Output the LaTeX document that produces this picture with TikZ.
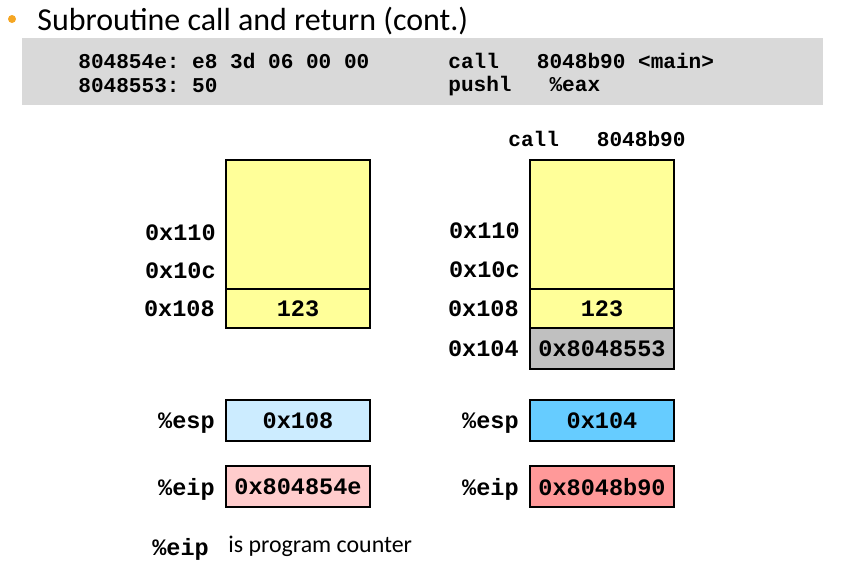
\documentclass[tikz,border=0pt]{standalone}
\usepackage{fontspec}
\setmainfont{Carlito}
\setmonofont{Liberation Mono}
\usetikzlibrary{positioning}
\definecolor{bandgray}{HTML}{D9D9D9}
\definecolor{stackyellow}{HTML}{FFFF99}
\definecolor{retgray}{HTML}{C0C0C0}
\definecolor{espold}{HTML}{CCECFF}
\definecolor{espnew}{HTML}{66CCFF}
\definecolor{eipold}{HTML}{FFCCCC}
\definecolor{eipnew}{HTML}{FF9999}
\definecolor{bulletorange}{HTML}{F5A623}
\newcommand{\monobig}{\fontsize{13.4}{15}\selectfont\ttfamily\bfseries}
\newcommand{\monocode}{\fontsize{12}{14}\selectfont\ttfamily\bfseries}

\begin{document}
\begin{tikzpicture}[x=0.02cm,y=-0.02cm,node distance=0.2cm,
    cell/.style={draw=black, line width=1.1pt, minimum width=2.88cm, inner sep=0pt, text depth=0pt, font=\monobig},
    reg/.style={cell, minimum height=0.82cm},
    addr/.style={inner sep=0pt, text depth=0pt, font=\monobig},
    code/.style={anchor=west, inner sep=0pt, font=\monocode}]

    \useasboundingbox (0,0) rectangle (850,566);

    % title
    \fill[bulletorange] (12,19) circle (4);
    \node[anchor=west, inner sep=0pt, font=\fontsize{18.2}{21}\selectfont] (title) at (37,21) {Subroutine call and return (cont.)};

    % code band
    \fill[bandgray] (22,38) rectangle (823,105);
    \node[code] (c1) at (78,61) {804854e: e8 3d 06 00 00};
    \node[code] (c2) at (78,86) {8048553: 50};
    \node[code] (c3) at (448,61) {call~~~8048b90 <main>};
    \node[code] (c4) at (448,86) {pushl~~~\%eax};
    \node[code] (instr) at (508,139) {call~~~8048b90};

    % stack before
    \node[cell, fill=stackyellow, minimum height=2.58cm] (lTop) at (298,224.5) {};
    \node[cell, fill=stackyellow, minimum height=0.78cm] (l108) at (298,308.5) {123};
    \node[addr, anchor=east] (l110) at (216,233) {0x110};
    \node[addr, anchor=east] (l10c) at (216,271) {0x10c};
    \node[addr, left=of l108] (l108a) {0x108};

    % stack after
    \node[cell, fill=stackyellow, minimum height=2.58cm] (rTop) at (602,224.5) {};
    \node[cell, fill=stackyellow, minimum height=0.78cm] (r108) at (602,308.5) {123};
    \node[cell, fill=retgray, minimum height=0.82cm] (r104) at (602,348.5) {0x8048553};
    \node[addr, anchor=east] (r110) at (520,231) {0x110};
    \node[addr, anchor=east] (r10c) at (520,270) {0x10c};
    \node[addr, left=of r108] (r108a) {0x108};
    \node[addr, left=of r104] (r104a) {0x104};

    % registers
    \node[reg, fill=espold] (lEsp) at (298,420.5) {0x108};
    \node[reg, fill=eipold] (lEip) at (298,486.5) {0x804854e};
    \node[reg, fill=espnew] (rEsp) at (602,420.5) {0x104};
    \node[reg, fill=eipnew] (rEip) at (602,486.5) {0x8048b90};
    \node[addr, left=of lEsp] (lEspName) {\%esp};
    \node[addr, left=of lEip] (lEipName) {\%eip};
    \node[addr, left=of rEsp] (rEspName) {\%esp};
    \node[addr, left=of rEip] (rEipName) {\%eip};

    % note
    \node[addr, anchor=west] (pc) at (152,547) {\%eip};
    \node[anchor=west, inner sep=0pt, font=\fontsize{13.6}{16}\selectfont] (pcNote) at (228,546) {is program counter};

\end{tikzpicture}
\end{document}
